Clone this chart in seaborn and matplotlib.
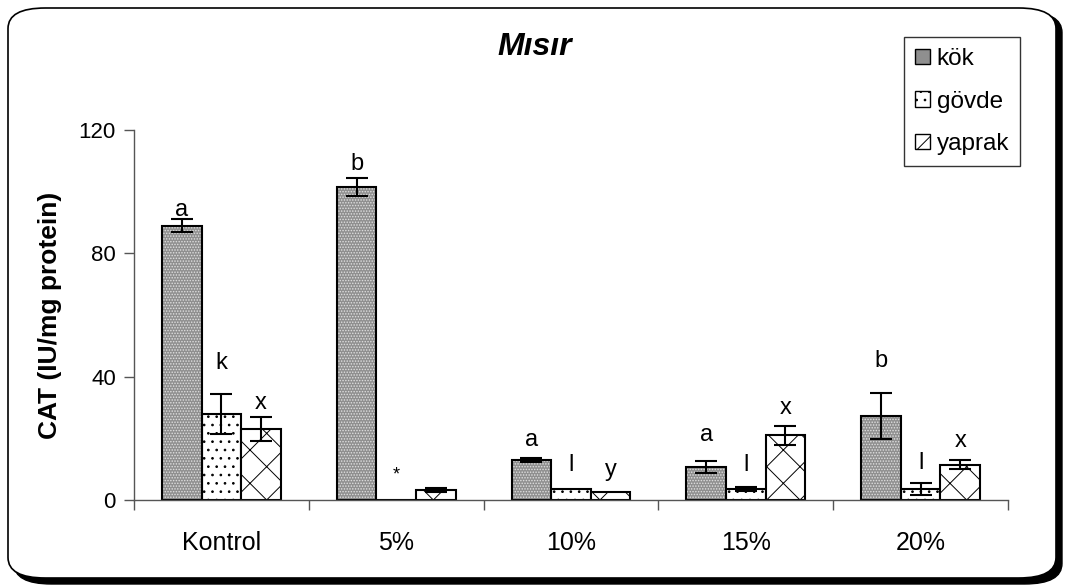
import numpy as np
import pandas as pd
import matplotlib
matplotlib.use("Agg")
import matplotlib.pyplot as plt
import seaborn as sns
from matplotlib.patches import Rectangle, Patch, FancyBboxPatch
from matplotlib.container import BarContainer

# ---- data ----
groups = ["Kontrol", "5%", "10%", "15%", "20%"]
organs = ["kök", "gövde", "yaprak"]
kok = [89, 101.5, 13, 10.8, 27.3]
govde = [28, 0, 3.5, 3.5, 3.5]
yaprak = [23, 3.2, 2.7, 21, 11.4]
kok_err = [2, 3, 0.6, 2, 7.5]
govde_err = [6.5, 0, 0, 0.6, 2]
yaprak_err = [4, 0.6, 0, 3, 1.5]
kok_lab = ["a", "b", "a", "a", "b"]
govde_lab = ["k", "*", "l", "l", "l"]
yaprak_lab = ["x", "", "y", "x", "x"]
kok_laby = [94, 109, 19.5, 21, 45]
govde_laby = [44.5, 8, 11.4, 11.4, 12]
yaprak_laby = [31.5, 0, 9.7, 30, 19]
yticks = [0, 40, 80, 120]

sns.set_theme(style="white")
plt.rcParams['font.family'] = ['Liberation Sans', 'DejaVu Sans']
plt.rcParams['hatch.linewidth'] = 0.7
plt.rcParams['text.color'] = 'black'
plt.rcParams['axes.labelcolor'] = 'black'
plt.rcParams['xtick.color'] = 'black'
plt.rcParams['ytick.color'] = 'black'

df = pd.DataFrame({
    "group": groups * 3,
    "organ": [o for o in organs for _ in groups],
    "value": kok + govde + yaprak,
})

fig = plt.figure(figsize=(10.67, 5.86), dpi=100)
fig.patch.set_facecolor("white")

# rounded border with shadow
shadow = FancyBboxPatch((14 / 1067, 1 - 584 / 586), 1048 / 1067, 572 / 586,
                        boxstyle="round,pad=0,rounding_size=0.035",
                        transform=fig.transFigure, facecolor="black",
                        edgecolor="black", lw=1, zorder=-2)
frame = FancyBboxPatch((8 / 1067, 1 - 578 / 586), 1048 / 1067, 570 / 586,
                       boxstyle="round,pad=0,rounding_size=0.035",
                       transform=fig.transFigure, facecolor="white",
                       edgecolor="black", lw=1.2, zorder=-1)
fig.patches.extend([shadow, frame])

ax = fig.add_axes([134 / 1067, 1 - 500 / 586, (1008 - 134) / 1067, (500 - 130) / 586])
ax.set_facecolor("none")

sns.barplot(data=df, x="group", y="value", hue="organ", order=groups,
            hue_order=organs, width=0.68, errorbar=None, ax=ax,
            palette=["#a6a6a6", "white", "white"], edgecolor="black",
            linewidth=1.5, legend=False, saturation=1)

bar_conts = [c for c in ax.containers if isinstance(c, BarContainer)]
vals = [kok, govde, yaprak]
errs = [kok_err, govde_err, yaprak_err]
labs = [kok_lab, govde_lab, yaprak_lab]
labys = [kok_laby, govde_laby, yaprak_laby]
hatches = [None, "..", "x"]
for ci, cont in enumerate(bar_conts):
    bars = list(cont.patches)
    for b in bars:
        h = b.get_height()
        if ci == 0:
            z = b.get_zorder()
            base = Rectangle((b.get_x(), 0), b.get_width(), h, facecolor="#8f8f8f",
                             edgecolor="none", lw=0, zorder=z + 0.05)
            ov = Rectangle((b.get_x(), 0), b.get_width(), h, facecolor="none",
                           edgecolor="#e0e0e0", hatch="......", lw=0, zorder=z + 0.1)
            ax.add_patch(base)
            ax.add_patch(ov)
            b.set_facecolor("none")
            b.set_zorder(z + 0.2)
        else:
            b.set_hatch(hatches[ci])
    for bi, b in enumerate(bars):
        xc = b.get_x() + b.get_width() / 2
        h = vals[ci][bi]
        if errs[ci][bi] > 0:
            ax.errorbar(xc, h, yerr=errs[ci][bi], fmt="none", ecolor="black",
                        elinewidth=1.5, capsize=8, capthick=1.5, zorder=5)
        if labs[ci][bi]:
            fs = 13 if labs[ci][bi] == "*" else 17
            ax.text(xc, labys[ci][bi], labs[ci][bi], ha="center", va="center",
                    fontsize=fs, color="black", zorder=6)

ax.set_xlim(-0.5, 4.5)
ax.set_ylim(0, 120)
ax.set_yticks(yticks)
ax.set_yticklabels([str(v) for v in yticks], fontsize=16)
ax.set_xticks(range(len(groups)))
ax.set_xticklabels(groups, fontsize=18)
ax.set_xticks(np.arange(-0.5, 5.0, 1.0), minor=True)
ax.tick_params(axis="x", which="major", length=0, pad=22, labelcolor="black")
ax.tick_params(axis="x", which="minor", length=7, width=1, color="#555555", direction="out", bottom=True)
ax.tick_params(axis="y", length=7, width=1, color="#555555", direction="out", left=True, pad=6,
               labelcolor="black")
for s in ["top", "right"]:
    ax.spines[s].set_visible(False)
for s in ["left", "bottom"]:
    ax.spines[s].set_color("#555555")
    ax.spines[s].set_linewidth(1)
ax.set_xlabel("")
ax.set_ylabel("CAT (IU/mg protein)", fontsize=19, fontweight="bold", labelpad=12, color="black")

fig.text(535 / 1067, 1 - 47 / 586, "Mısır", ha="center", va="center",
         fontsize=23, fontweight="bold", fontstyle="italic", color="black")

handles = [Patch(facecolor="#8f8f8f", edgecolor="black", hatch=None),
           Patch(facecolor="white", edgecolor="black", hatch=".."),
           Patch(facecolor="white", edgecolor="black", hatch="x")]
leg = fig.legend(handles, organs, loc="upper left", bbox_to_anchor=(904 / 1067, 1 - 37 / 586),
                 bbox_transform=fig.transFigure, fontsize=17.5, frameon=True, fancybox=False,
                 edgecolor="black", handlelength=0.6, handleheight=0.6, handletextpad=0.3,
                 labelspacing=0.85, borderpad=0.45, borderaxespad=0)
leg.get_frame().set_linewidth(1)
for t in leg.get_texts():
    t.set_color("black")

fig.savefig("out.png", dpi=100, facecolor="white")
